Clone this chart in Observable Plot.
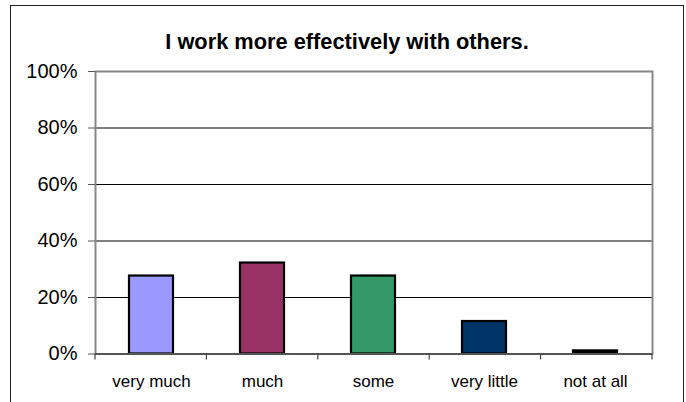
<!DOCTYPE html>
<html>
<head>
<meta charset="utf-8">
<script src="https://cdn.jsdelivr.net/npm/d3@7"></script>
<script src="https://cdn.jsdelivr.net/npm/@observablehq/plot@0.6"></script>
<style>
  html, body { margin: 0; padding: 0; background: #fff; }
  #wrap { position: relative; width: 686px; height: 402px; overflow: hidden; font-family: "Liberation Sans", Arial, sans-serif; }
  #border { position: absolute; left: 10px; top: 4.5px; width: 674px; height: 420px; box-sizing: border-box; border: 1.5px solid #222; }
  #title { position: absolute; left: 10px; width: 674px; top: 30.5px; text-align: center; font-size: 21.8px; line-height: 22px; font-weight: bold; color: #000; }
  #chart { position: absolute; left: 0; top: 0; }
</style>
</head>
<body>
<div id="wrap">
  <div id="border"></div>
  <div id="title">I work more effectively with others.</div>
  <div id="chart"></div>
</div>
<script>
const categories = ["very much", "much", "some", "very little", "not at all"];
const values = [0.276, 0.322, 0.276, 0.115, 0.011];
const colors = ["#9999FF", "#993366", "#339966", "#003366", "#000000"];
const yTicks = [0, 0.2, 0.4, 0.6, 0.8, 1];
const gridTicks = [0.2, 0.4, 0.6, 0.8];

const data = categories.map((c, i) => ({category: c, value: values[i], color: colors[i]}));

const W = 686, H = 402;
const mL = 95, mR = 34, mT = 71, mB = 48.5;

// category boundary tick marks drawn from the band scale layout
function boundaryTicks(index, scales, values, dims) {
  const step = (dims.width - dims.marginLeft - dims.marginRight) / categories.length;
  const y0 = scales.y(0);
  const g = d3.create("svg:g").attr("stroke", "#444").attr("stroke-width", 1.2);
  for (let i = 0; i <= categories.length; i++) {
    const x = dims.marginLeft + i * step;
    g.append("line").attr("x1", x).attr("x2", x).attr("y1", y0).attr("y2", y0 + 6);
  }
  return g.node();
}

const chart = Plot.plot({
  width: W,
  height: H,
  marginLeft: mL,
  marginRight: mR,
  marginTop: mT,
  marginBottom: mB,
  style: {background: "transparent", fontFamily: "Liberation Sans, Arial, sans-serif", color: "#000"},
  x: {domain: categories, paddingInner: 0.6, paddingOuter: 0.3, label: null},
  y: {domain: [0, 1], label: null},
  marks: [
    Plot.ruleY(gridTicks, {stroke: "#000", strokeWidth: 1}),
    Plot.frame({stroke: "#888", strokeWidth: 2}),
    Plot.barY(data, {x: "category", y: "value", fill: "color", stroke: "#000", strokeWidth: 2.2}),
    Plot.ruleY([0], {stroke: "#555", strokeWidth: 2}),
    boundaryTicks,
    Plot.axisY({ticks: yTicks, tickFormat: d3.format(".0%"), tickSize: 7, tickPadding: 11, fontSize: 20, stroke: "#555", fill: "#000"}),
    Plot.axisX({tickSize: 0, tickPadding: 21, fontSize: 17, fill: "#000"})
  ]
});
document.getElementById("chart").appendChild(chart);
</script>
</body>
</html>
